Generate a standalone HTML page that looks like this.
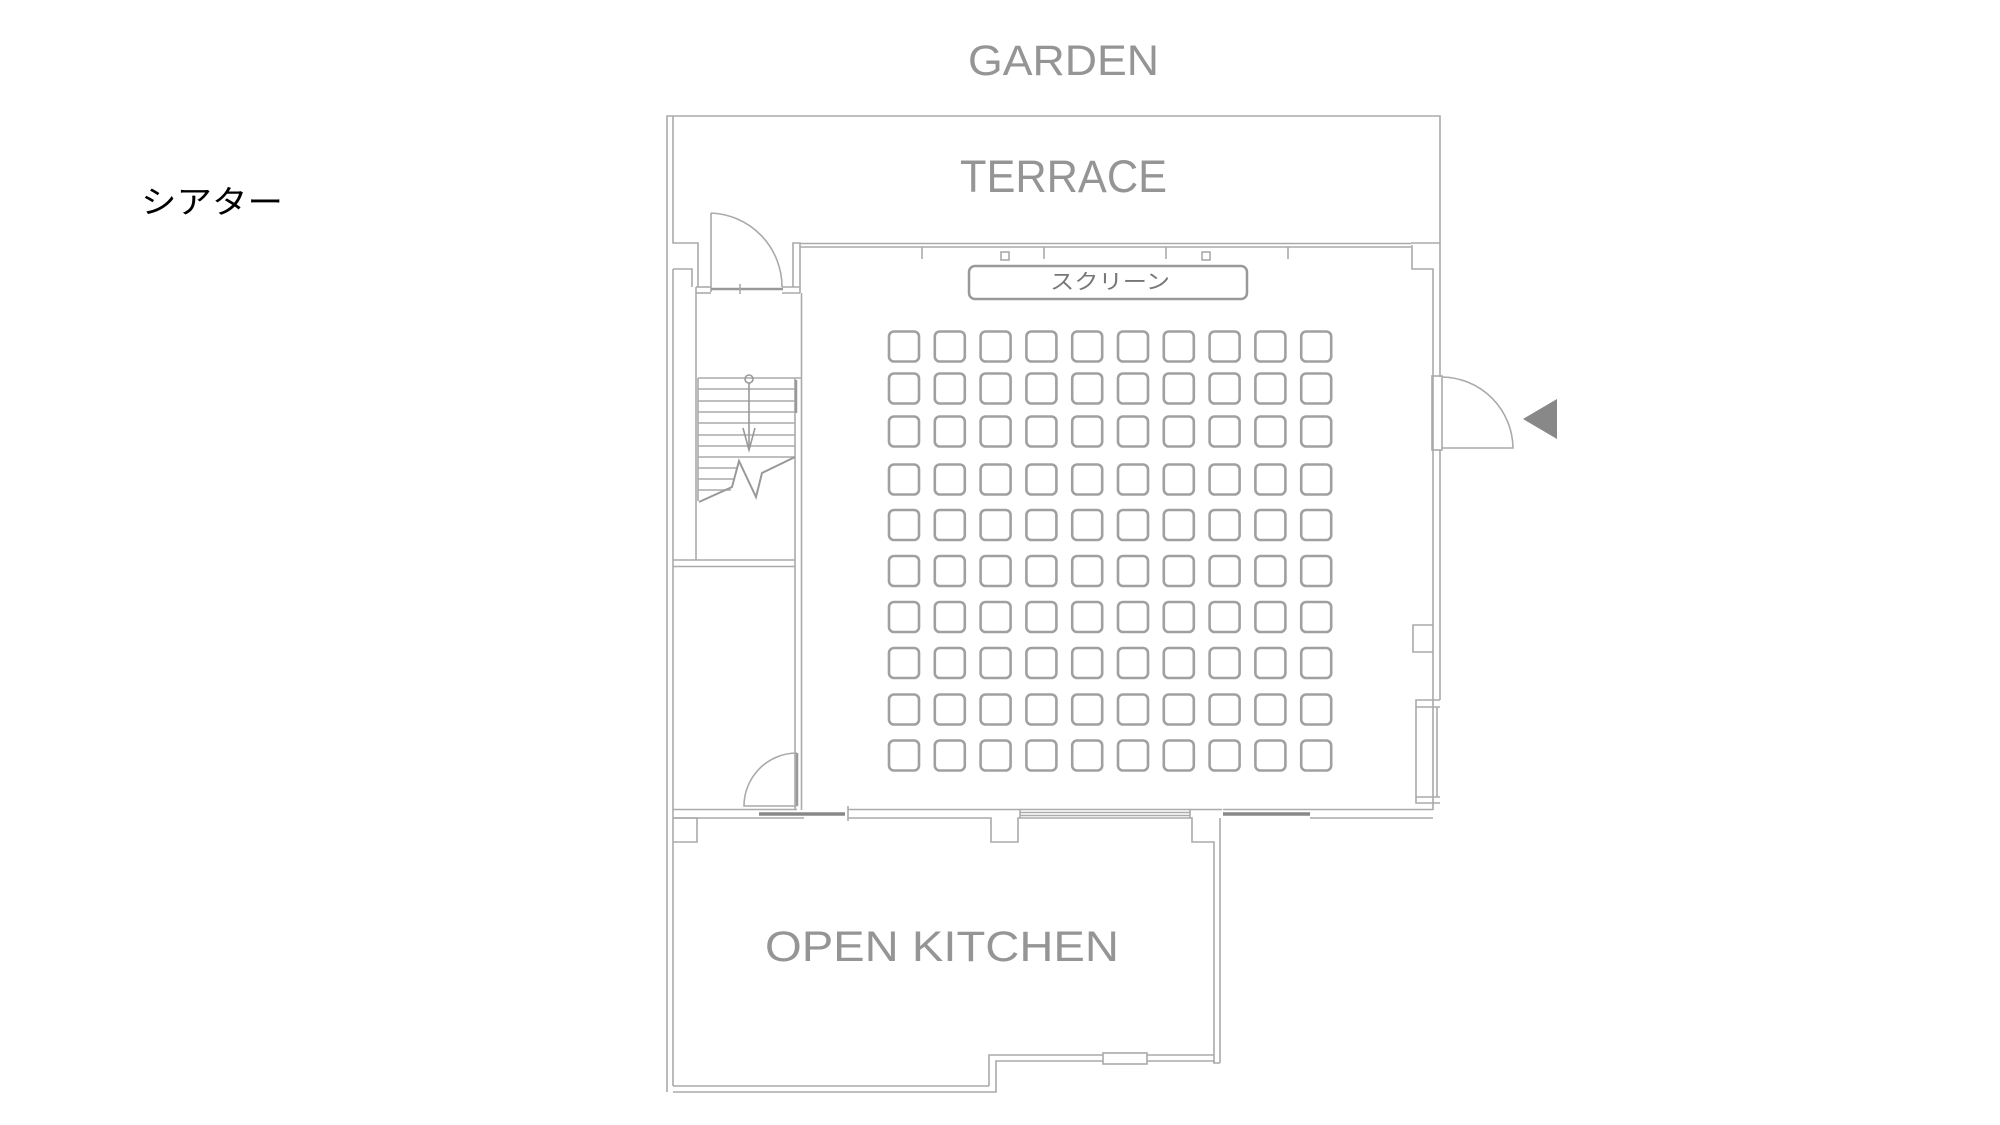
<!DOCTYPE html>
<html><head><meta charset="utf-8"><style>
html,body{margin:0;padding:0;background:#fff;}
svg{display:block;}
</style></head><body>
<svg width="2000" height="1125" viewBox="0 0 2000 1125" xmlns="http://www.w3.org/2000/svg">
<rect width="2000" height="1125" fill="#fff"/>
<g font-family="Liberation Sans, sans-serif" fill="#959595">
<text x="968" y="75" font-size="43" textLength="191" lengthAdjust="spacingAndGlyphs">GARDEN</text>
<text x="960" y="192" font-size="45" textLength="207" lengthAdjust="spacingAndGlyphs">TERRACE</text>
<text x="765" y="961" font-size="43" textLength="354" lengthAdjust="spacingAndGlyphs">OPEN KITCHEN</text>
</g>
<text x="141" y="213" font-family="Liberation Sans, 'Noto Sans CJK JP', sans-serif" font-size="32" fill="#000" textLength="142" lengthAdjust="spacingAndGlyphs">シアター</text>

<g fill="none" stroke="#aaa" stroke-width="1.6">
<polyline points="667,1092 667,116 1440,116 1440,377"/>
<polyline points="673,116 673,243 698,243 698,287"/>
<polyline points="673,269 692,269 692,287"/>
<line x1="673" y1="269" x2="673" y2="1086"/>
<line x1="800" y1="243.5" x2="1411" y2="243.5"/>
<line x1="800" y1="247" x2="1411" y2="247"/>
<polyline points="1411,243 1440,243"/>
<polyline points="1412,245 1412,269 1433,269 1433,810"/>
<line x1="1440" y1="450" x2="1440" y2="700"/>
<polyline points="793,287 793,243 800,243 800,293"/>
<polyline points="696,287 696,560"/>
<line x1="696" y1="287" x2="711" y2="287"/>
<line x1="696" y1="293" x2="711" y2="293"/>
<line x1="782" y1="287" x2="800" y2="287"/>
<line x1="782" y1="293" x2="800" y2="293"/>
<line x1="711" y1="213" x2="711" y2="292"/>
<path d="M711 213 A74 74 0 0 1 782 287"/>
<line x1="711" y1="289" x2="783" y2="289" stroke-width="2.5" stroke="#999"/>
<line x1="740" y1="284" x2="740" y2="294"/>
<line x1="795" y1="378" x2="795" y2="810"/>
<line x1="801.5" y1="293" x2="801.5" y2="810"/>
<polyline points="698,378 801,378"/>
<line x1="698" y1="378" x2="698" y2="501"/>
<g stroke="#aaa">
<line x1="698" y1="389" x2="795" y2="389"/>
<line x1="698" y1="401" x2="795" y2="401"/>
<line x1="698" y1="412" x2="795" y2="412"/>
<line x1="698" y1="423" x2="795" y2="423"/>
<line x1="698" y1="435" x2="795" y2="435"/>
<line x1="698" y1="446" x2="795" y2="446"/>
<line x1="698" y1="457" x2="795" y2="457"/>
<line x1="698" y1="468" x2="737" y2="468"/>
<line x1="698" y1="479" x2="733" y2="479"/>
<line x1="698" y1="490" x2="731" y2="490"/>
</g>
<polyline points="699,502 732,487 739,461 756,497 762,473 795,457" stroke="#999" stroke-width="2"/>
<circle cx="749" cy="379" r="4" stroke="#999"/>
<line x1="749" y1="383" x2="749" y2="450" stroke="#999"/>
<polyline points="743,428 749,450 755,428" stroke="#999"/>
<line x1="796" y1="380" x2="796" y2="413" stroke="#999" stroke-width="2.5"/>
<line x1="673" y1="560" x2="795" y2="560"/>
<line x1="673" y1="566.5" x2="795" y2="566.5"/>
<line x1="797" y1="753" x2="797" y2="806" stroke="#999" stroke-width="2.5"/>
<path d="M797 753 A53 53 0 0 0 744 806 L797 806"/>
<line x1="673" y1="809.5" x2="797" y2="809.5"/>
<line x1="673" y1="818" x2="804" y2="818"/>
<line x1="848" y1="809.5" x2="1222" y2="809.5"/>
<polyline points="848,818 991,818 991,842 1018,842 1018,818 1192,818 1192,842 1214,842 1214,1063"/>
<line x1="1220" y1="818" x2="1220" y2="1063"/>
<line x1="1020" y1="812.5" x2="1190" y2="812.5"/>
<line x1="1020" y1="815.5" x2="1190" y2="815.5"/>
<line x1="1020" y1="809" x2="1020" y2="818"/>
<line x1="1190" y1="809" x2="1190" y2="818"/>
<line x1="848" y1="806" x2="848" y2="821"/>
<line x1="1310" y1="809.5" x2="1433" y2="809.5"/>
<line x1="1310" y1="818" x2="1433" y2="818"/>
<line x1="1223" y1="809.5" x2="1310" y2="809.5"/>
<polyline points="673,818 697,818 697,842 673,842"/>
<polyline points="1214,1055 1147,1055"/>
<polyline points="1220,1063 1214,1063 1214,1061 1147,1061"/>
<polyline points="1103,1055 989,1055 989,1086"/>
<polyline points="1103,1061 996,1061 996,1092 673,1092"/>
<line x1="673" y1="1086" x2="989" y2="1086"/>
<rect x="1103" y="1053" width="44" height="11"/>
<polyline points="1433,625 1413,625 1413,652 1433,652"/>
<polyline points="1440,700 1416,700 1416,803 1440,803"/>
<line x1="1437" y1="707" x2="1437" y2="797"/>
<line x1="1416" y1="707" x2="1440" y2="707"/>
<line x1="1416" y1="797" x2="1440" y2="797"/>
<rect x="1432" y="376" width="10" height="74"/>
<path d="M1442 377 A72 72 0 0 1 1513 448 L1442 448"/>
<line x1="922" y1="247" x2="922" y2="259"/>
<line x1="1044" y1="247" x2="1044" y2="259"/>
<line x1="1166" y1="247" x2="1166" y2="259"/>
<line x1="1288" y1="247" x2="1288" y2="259"/>
<rect x="1001" y="252" width="8" height="8"/>
<rect x="1202" y="252" width="8" height="8"/>
</g>
<g stroke="#888" stroke-width="3.5">
<line x1="759" y1="814" x2="845" y2="814"/>
<line x1="1223" y1="814" x2="1310" y2="814"/>
</g>
<polygon points="1523,419 1557,399 1557,439" fill="#888"/>
<rect x="969" y="266" width="278" height="33" rx="6" fill="none" stroke="#999" stroke-width="2.5"/>
<text x="1050" y="289" font-family="Liberation Sans, 'Noto Sans CJK JP', sans-serif" font-size="21" fill="#777" textLength="120" lengthAdjust="spacingAndGlyphs">スクリーン</text>
<g fill="none" stroke="#a0a0a0" stroke-width="2.6">
<defs>
<g id="row">
<rect x="889" y="0" width="30" height="30" rx="5"/>
<rect x="934.8" y="0" width="30" height="30" rx="5"/>
<rect x="980.6" y="0" width="30" height="30" rx="5"/>
<rect x="1026.4" y="0" width="30" height="30" rx="5"/>
<rect x="1072.2" y="0" width="30" height="30" rx="5"/>
<rect x="1118" y="0" width="30" height="30" rx="5"/>
<rect x="1163.8" y="0" width="30" height="30" rx="5"/>
<rect x="1209.6" y="0" width="30" height="30" rx="5"/>
<rect x="1255.4" y="0" width="30" height="30" rx="5"/>
<rect x="1301.2" y="0" width="30" height="30" rx="5"/>
</g>
</defs>
<use href="#row" y="331.5"/>
<use href="#row" y="373.5"/>
<use href="#row" y="416.5"/>
<use href="#row" y="464.5"/>
<use href="#row" y="510"/>
<use href="#row" y="556"/>
<use href="#row" y="602"/>
<use href="#row" y="648"/>
<use href="#row" y="694.5"/>
<use href="#row" y="740.5"/>
</g>
</svg>
</body></html>
